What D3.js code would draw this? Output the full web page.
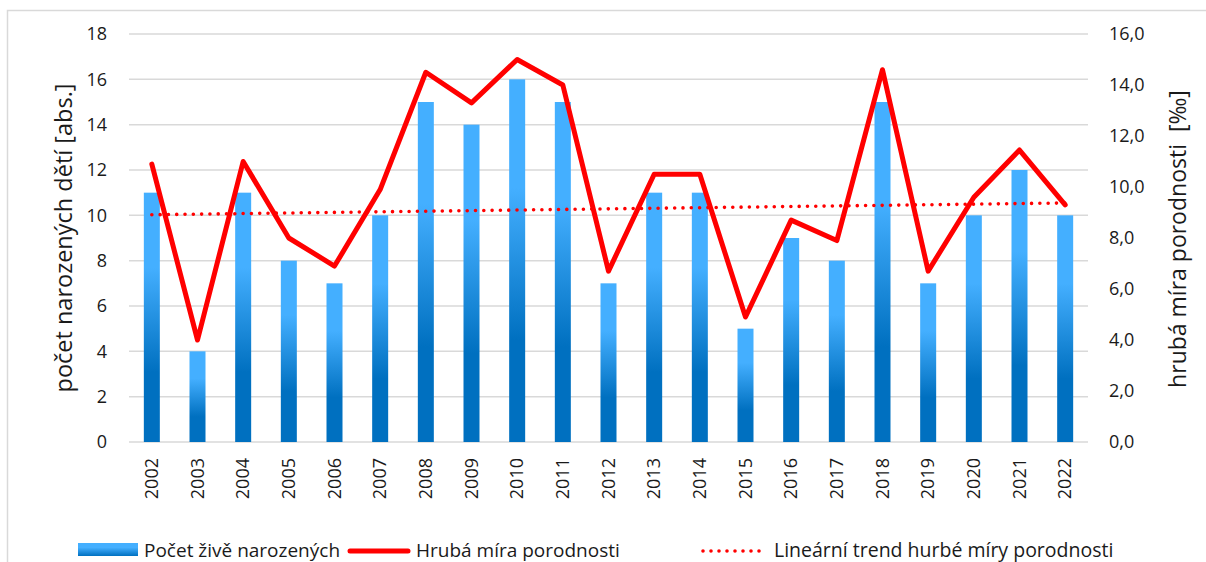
<!DOCTYPE html>
<meta charset="utf-8">
<style>
body { margin: 0; background: #fff; }
text { font-family: "Open Sans", sans-serif; fill: #1a1a1a; }
.tick text { font-size: 18px; }
.grid line { stroke: #d9d9d9; stroke-width: 1.5; }
</style>
<script src="https://d3js.org/d3.v7.min.js"></script>
<svg width="1206" height="562"></svg>
<script>

var years = ["2002","2003","2004","2005","2006","2007","2008","2009","2010","2011","2012",
             "2013","2014","2015","2016","2017","2018","2019","2020","2021","2022"];
var births = [11, 4, 11, 8, 7, 10, 15, 14, 16, 15, 7, 11, 11, 5, 9, 8, 15, 7, 10, 12, 10];
var rate = [10.9, 4.0, 11.0, 8.0, 6.9, 9.9, 14.5, 13.3, 15.0, 14.0, 6.7,
            10.5, 10.5, 4.9, 8.7, 7.9, 14.6, 6.7, 9.6, 11.45, 9.3];
var leftTicks = [0, 2, 4, 6, 8, 10, 12, 14, 16, 18];
var rightTicks = [0, 2, 4, 6, 8, 10, 12, 14, 16];

var svg = d3.select("svg");
var plotL = 129, plotR = 1088, plotT = 34, plotB = 442;

// border
svg.append("rect")
    .attr("x", 7.5).attr("y", 10.5)
    .attr("width", 1260).attr("height", 600)
    .attr("fill", "#fff").attr("stroke", "#d9d9d9").attr("stroke-width", 1.5);

var x = d3.scaleBand().domain(years).range([plotL, plotR]);
var y = d3.scaleLinear().domain([0, 18]).range([plotB, plotT]);
var y2 = d3.scaleLinear().domain([0, 16]).range([plotB, plotT]);

var defs = svg.append("defs");
var grad = defs.append("linearGradient")
    .attr("id", "barGrad").attr("x1", 0).attr("y1", 0).attr("x2", 0).attr("y2", 1);
grad.append("stop").attr("offset", "0%").attr("stop-color", "#44afff");
grad.append("stop").attr("offset", "30%").attr("stop-color", "#44afff");
grad.append("stop").attr("offset", "72%").attr("stop-color", "#0070c0");
grad.append("stop").attr("offset", "100%").attr("stop-color", "#0070c0");

// gridlines
svg.append("g").attr("class", "grid")
  .selectAll("line").data(leftTicks).enter().append("line")
    .attr("x1", plotL).attr("x2", plotR)
    .attr("y1", function(d) { return y(d); })
    .attr("y2", function(d) { return y(d); });

// left axis
var gl = svg.append("g")
    .attr("transform", "translate(" + (plotL - 22) + ",0)")
    .call(d3.axisLeft(y).tickValues(leftTicks).tickSize(0).tickPadding(0));
gl.select(".domain").remove();

// right axis
var gr = svg.append("g")
    .attr("transform", "translate(" + (plotR + 21) + ",0)")
    .call(d3.axisRight(y2).tickValues(rightTicks).tickSize(0).tickPadding(0)
      .tickFormat(function(d) { return d3.format(".1f")(d).replace(".", ","); }));
gr.select(".domain").remove();

// x axis
var gx = svg.append("g")
    .attr("transform", "translate(0," + plotB + ")")
    .call(d3.axisBottom(x).tickSize(0).tickPadding(0));
gx.select(".domain").remove();
gx.selectAll("text")
    .attr("transform", "rotate(-90)")
    .attr("text-anchor", "end")
    .attr("x", -16).attr("y", 0).attr("dy", "0.35em");

// bars
var bw = 16;
svg.append("g").selectAll("rect").data(births).enter().append("rect")
    .attr("x", function(d, i) { return x(years[i]) + x.bandwidth() / 2 - bw / 2; })
    .attr("y", function(d) { return y(d); })
    .attr("width", bw)
    .attr("height", function(d) { return plotB - y(d); })
    .attr("fill", "url(#barGrad)");

// linear trend of births (least squares), on the left axis
var n = births.length;
var mx = d3.mean(births, function(d, i) { return i; });
var my = d3.mean(births);
var sxy = d3.sum(births, function(d, i) { return (i - mx) * (d - my); });
var sxx = d3.sum(births, function(d, i) { return (i - mx) * (i - mx); });
var slope = sxy / sxx, icpt = my - slope * mx;
var trend = [0, n - 1].map(function(i) { return [i, icpt + slope * i]; });

svg.append("path")
    .datum(trend)
    .attr("fill", "none")
    .attr("stroke", "#ff0000")
    .attr("stroke-width", 3.6)
    .attr("stroke-linecap", "round")
    .attr("stroke-dasharray", "0 8.3")
    .attr("d", d3.line()
      .x(function(d) { return x(years[d[0]]) + x.bandwidth() / 2; })
      .y(function(d) { return y(d[1]); }));

// rate line
svg.append("path")
    .datum(rate)
    .attr("fill", "none")
    .attr("stroke", "#ff0000")
    .attr("stroke-width", 5)
    .attr("stroke-linejoin", "round")
    .attr("stroke-linecap", "round")
    .attr("d", d3.line()
      .x(function(d, i) { return x(years[i]) + x.bandwidth() / 2; })
      .y(function(d) { return y2(d); }));

// axis titles
svg.append("text")
    .attr("transform", "translate(72,238) rotate(-90)")
    .attr("text-anchor", "middle")
    .style("font-size", "23.5px")
    .text("počet narozených dětí [abs.]");

svg.append("text")
    .attr("transform", "translate(1186,239) rotate(-90)")
    .attr("text-anchor", "middle")
    .style("font-size", "23px")
    .style("white-space", "pre")
    .text("hrubá míra porodnosti  [‰]");

// legend
var lg = svg.append("g");
var lgGrad = defs.append("linearGradient")
    .attr("id", "legGrad").attr("x1", 0).attr("y1", 0).attr("x2", 0).attr("y2", 1);
lgGrad.append("stop").attr("offset", "0%").attr("stop-color", "#44afff");
lgGrad.append("stop").attr("offset", "35%").attr("stop-color", "#44afff");
lgGrad.append("stop").attr("offset", "100%").attr("stop-color", "#0070c0");

lg.append("rect").attr("x", 78).attr("y", 543).attr("width", 60).attr("height", 13)
    .attr("fill", "url(#legGrad)");
lg.append("text").attr("x", 144).attr("y", 557).style("font-size", "19px")
    .text("Počet živě narozených");

lg.append("line").attr("x1", 350).attr("x2", 408).attr("y1", 551).attr("y2", 551)
    .attr("stroke", "#ff0000").attr("stroke-width", 5).attr("stroke-linecap", "round");
lg.append("text").attr("x", 416).attr("y", 557).style("font-size", "19px")
    .text("Hrubá míra porodnosti");

lg.append("line").attr("x1", 703).attr("x2", 767).attr("y1", 551).attr("y2", 551)
    .attr("stroke", "#ff0000").attr("stroke-width", 3.6).attr("stroke-linecap", "round")
    .attr("stroke-dasharray", "0 8");
lg.append("text").attr("x", 774).attr("y", 557).style("font-size", "19.5px")
    .text("Lineární trend hurbé míry porodnosti");

</script>
